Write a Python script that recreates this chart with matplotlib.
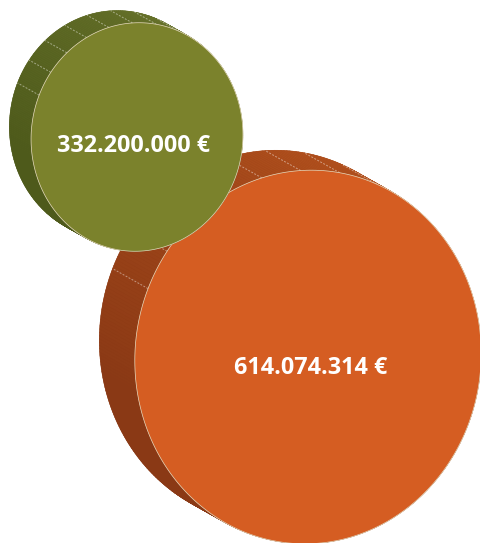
import numpy as np
import matplotlib.pyplot as plt
from matplotlib.patches import Polygon
from matplotlib.colors import to_rgb

# two amounts shown as coins
labels = ["332.200.000 €", "614.074.314 €"]
values = [332200000, 614074314]
centers = [(137, 137), (308, 357)]
face_colors = ["#7b822c", "#d55d22"]
side_light = ["#66712a", "#b1501d"]
side_dark = ["#4e5a1b", "#8a3915"]
label_pos = [(134, 146), (311, 368)]

W, H = 481, 543
fig = plt.figure(figsize=(W / 100, H / 100), dpi=100)
ax = fig.add_axes([0, 0, 1, 1])
ax.set_xlim(0, W)
ax.set_ylim(H, 0)
ax.axis("off")

vmax = max(values)
tilt = np.radians(7)


def ellipse_pts(c, a, b, t):
    x = a * np.cos(t) * np.cos(tilt) - b * np.sin(t) * np.sin(tilt)
    y = a * np.cos(t) * np.sin(tilt) + b * np.sin(t) * np.cos(tilt)
    return np.column_stack([c[0] + x, c[1] + y])


def coin(c, value, face, light, dark, z):
    b = 187 * (value / vmax) ** 0.8
    a = b * 0.925
    off = np.array([-0.19 * b, -0.107 * b])
    t = np.linspace(0, 2 * np.pi, 361)
    front = ellipse_pts(c, a, b, t)
    back = front + off

    lc, dc = np.array(to_rgb(light)), np.array(to_rgb(dark))
    ax.add_patch(Polygon(back, closed=True, fc=dark, ec="none", zorder=z))
    for i in range(len(t) - 1):
        d = front[i + 1] - front[i]
        nx, ny = d[1], -d[0]
        ang = np.degrees(np.arctan2(-ny, nx)) % 360
        f = np.clip((ang - 80) / 110, 0, 1)
        col = lc * (1 - f) + dc * f
        quad = [front[i], front[i + 1], back[i + 1], back[i]]
        ax.add_patch(Polygon(quad, closed=True, fc=col, ec=col, lw=0.3, zorder=z))

    # segment seams on the upper side
    for tk in np.radians(np.arange(-165, -40, 13)):
        p = ellipse_pts(c, a, b, np.array([tk]))[0]
        ax.plot([p[0], p[0] + off[0]], [p[1], p[1] + off[1]], color="white",
                alpha=0.45, lw=0.7, ls=(0, (2, 1.5)), zorder=z + 0.1)

    ax.add_patch(Polygon(front, closed=True, fc=face, ec="#e8dcc0", lw=0.5,
                         zorder=z + 0.2))


for k in [1, 0]:
    coin(centers[k], values[k], face_colors[k], side_light[k], side_dark[k], 2 + (1 - k) * 2)
    ax.text(label_pos[k][0], label_pos[k][1], labels[k], color="white",
            fontsize=16.8, fontweight="bold", family=["Open Sans", "DejaVu Sans"],
            ha="center", va="center", zorder=10)

fig.savefig("out.png", dpi=100)
